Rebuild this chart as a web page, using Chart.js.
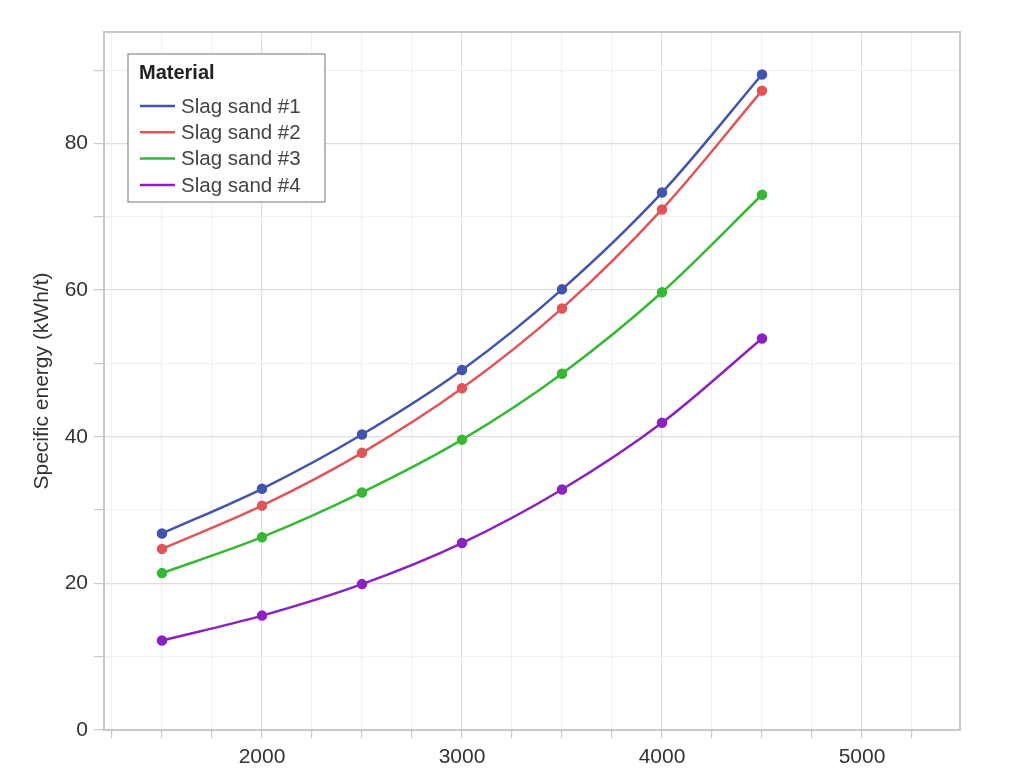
<!DOCTYPE html>
<html>
<head>
<meta charset="utf-8">
<script src="https://cdn.jsdelivr.net/npm/chart.js@4/dist/chart.umd.min.js"></script>
<style>
    html, body { margin: 0; padding: 0; background: #fff; }
    #wrap { width: 1013px; height: 769px; }
</style>
</head>
<body>
<div id="wrap"><canvas id="energyChart" width="1013" height="769"></canvas></div>
<script>
// speed values (x) and specific energy (kWh/t) per material
const speeds = [1500, 2000, 2500, 3000, 3500, 4000, 4500];
const slagSand1 = [26.8, 32.9, 40.3, 49.1, 60.1, 73.3, 89.4];
const slagSand2 = [24.7, 30.6, 37.8, 46.6, 57.5, 71.0, 87.2];
const slagSand3 = [21.4, 26.3, 32.4, 39.6, 48.6, 59.7, 73.0];
const slagSand4 = [12.2, 15.6, 19.9, 25.5, 32.8, 41.9, 53.4];
const seriesNames = ['Slag sand #1', 'Slag sand #2', 'Slag sand #3', 'Slag sand #4'];
const seriesColors = ['#4254b0', '#e05557', '#35b935', '#8b22c0'];
const xTicks = [1250, 1500, 1750, 2000, 2250, 2500, 2750, 3000, 3250, 3500, 3750, 4000, 4250, 4500, 4750, 5000, 5250];
const xTickLabels = [2000, 3000, 4000, 5000];
const yTickLabels = [0, 20, 40, 60, 80];

const FONT = '"Liberation Sans", Arial, sans-serif';

function toPoints(values) {
    return speeds.map((s, i) => ({ x: s, y: values[i] }));
}

const allSeries = [slagSand1, slagSand2, slagSand3, slagSand4];
const datasets = allSeries.map((values, i) => ({
    label: seriesNames[i],
    data: toPoints(values),
    borderColor: seriesColors[i],
    backgroundColor: seriesColors[i],
    borderWidth: 2.5,
    pointRadius: 4,
    pointHoverRadius: 4,
    cubicInterpolationMode: 'monotone',
    fill: false
}));

// frame around the plot + legend box inside it
const frameAndLegend = {
    id: 'frameAndLegend',
    afterDraw(chart) {
        const { ctx, chartArea: a } = chart;
        ctx.save();
        ctx.strokeStyle = '#c9c9c9';
        ctx.lineWidth = 2;
        ctx.strokeRect(a.left, a.top, a.right - a.left, a.bottom - a.top);

        // legend
        const bx = a.left + 24, by = a.top + 22, bw = 197, bh = 148;
        ctx.fillStyle = '#fff';
        ctx.fillRect(bx, by, bw, bh);
        ctx.strokeStyle = '#8a8a8a';
        ctx.lineWidth = 1.2;
        ctx.strokeRect(bx, by, bw, bh);

        ctx.fillStyle = '#222';
        ctx.font = 'bold 20px ' + FONT;
        ctx.textBaseline = 'middle';
        ctx.textAlign = 'left';
        ctx.fillText('Material', bx + 11, by + 19);

        ctx.font = '20.5px ' + FONT;
        chart.data.datasets.forEach((ds, i) => {
            const cy = by + 52 + i * 26.3;
            ctx.strokeStyle = ds.borderColor;
            ctx.lineWidth = 2.5;
            ctx.beginPath();
            ctx.moveTo(bx + 12, cy);
            ctx.lineTo(bx + 47, cy);
            ctx.stroke();
            ctx.fillStyle = '#444';
            ctx.fillText(ds.label, bx + 53, cy + 1);
        });
        ctx.restore();
    }
};

const ctx = document.getElementById('energyChart').getContext('2d');
new Chart(ctx, {
    type: 'line',
    data: { datasets },
    options: {
        responsive: false,
        animation: false,
        layout: { padding: { left: 30, top: 32, right: 53, bottom: 0 } },
        plugins: {
            legend: { display: false },
            tooltip: { enabled: false }
        },
        scales: {
            x: {
                type: 'linear',
                min: 1210,
                max: 5490,
                afterFit(scale) { scale.height = 39; },
                afterBuildTicks(scale) { scale.ticks = xTicks.map(v => ({ value: v })); },
                ticks: {
                    autoSkip: false,
                    maxRotation: 0,
                    padding: 7,
                    color: '#333',
                    font: { family: FONT, size: 21 },
                    callback: v => xTickLabels.includes(v) ? String(v) : ''
                },
                grid: {
                    color: c => (c.tick && c.tick.value % 1000 === 0) ? '#dedede' : '#f0f0f0',
                    lineWidth: 1.2,
                    tickLength: 8,
                    tickColor: '#c9c9c9'
                },
                border: { color: '#c9c9c9', width: 2 }
            },
            y: {
                min: 0,
                max: 95.2,
                afterFit(scale) { scale.width = 74; },
                ticks: {
                    stepSize: 10,
                    autoSkip: false,
                    includeBounds: false,
                    padding: 6,
                    color: '#333',
                    font: { family: FONT, size: 21 },
                    callback: v => yTickLabels.includes(v) ? String(v) : ''
                },
                grid: {
                    color: c => (c.tick && c.tick.value % 20 === 0) ? '#dedede' : '#f0f0f0',
                    lineWidth: 1.2,
                    tickLength: 10,
                    tickColor: '#c9c9c9'
                },
                border: { color: '#c9c9c9', width: 2 },
                title: {
                    display: true,
                    text: 'Specific energy (kWh/t)',
                    color: '#333',
                    font: { family: FONT, size: 21 },
                    padding: { top: 0, bottom: 0 }
                }
            }
        }
    },
    plugins: [frameAndLegend]
});
</script>
</body>
</html>
